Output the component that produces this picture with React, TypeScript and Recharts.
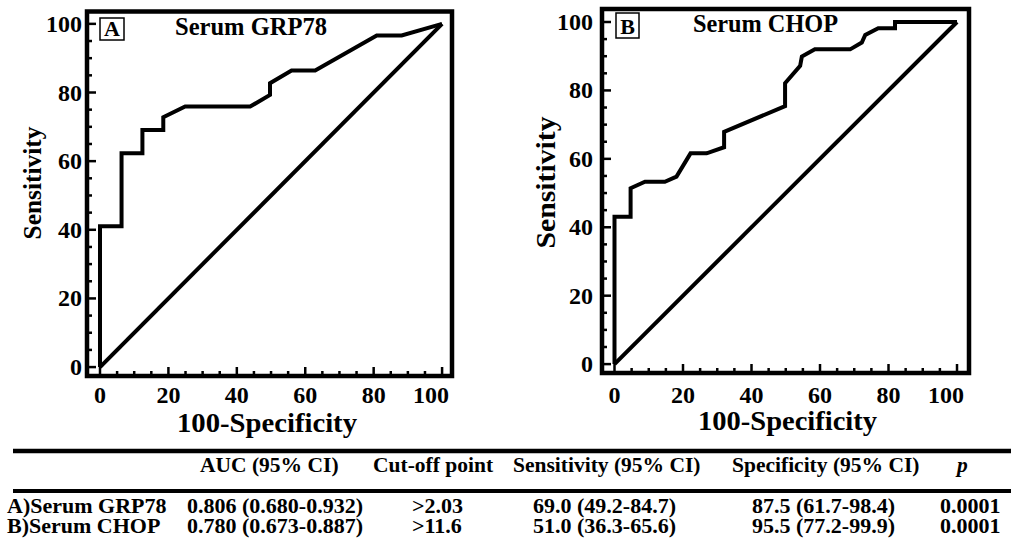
import { LineChart, Line, XAxis, YAxis, ReferenceArea, Customized } from "recharts";

// ROC curve A: serum GRP78 (100-specificity vs sensitivity)
const grpFpr = [0, 0, 6.3, 6.3, 12.4, 12.4, 18.5, 18.5, 24.9, 43.9, 49.7, 49.7, 56.0, 62.9, 80.9, 88.2, 100];
const grpSens = [0, 41, 41, 62.3, 62.3, 69.1, 69.1, 72.8, 75.9, 75.9, 79.3, 82.7, 86.4, 86.4, 96.6, 96.6, 100];

// ROC curve B: serum CHOP
const chopFpr = [0, 0, 4.7, 4.7, 8.9, 14.7, 18.1, 22.2, 26.9, 32.0, 32.0, 49.8, 49.8, 54.2, 54.7, 58.5, 68.8, 72.2, 73.2, 77.0, 81.9, 81.9, 100];
const chopSens = [0, 43.1, 43.1, 51.4, 53.3, 53.3, 54.8, 61.6, 61.6, 63.4, 67.9, 75.4, 82.1, 87.2, 89.9, 92.0, 92.0, 94.0, 96.2, 98.2, 98.2, 100, 100];

// reference diagonal
const refFpr = [0, 100];
const refSens = [0, 100];

const axisTicks = [0, 5, 10, 15, 20, 25, 30, 35, 40, 45, 50, 55, 60, 65, 70, 75, 80, 85, 90, 95, 100];

const tableHeader = ["AUC (95% CI)", "Cut-off point", "Sensitivity (95% CI)", "Specificity (95% CI)"];
const headerX = [200, 373, 513, 732];
const rowNames = ["A)Serum GRP78", "B)Serum CHOP"];
const rowAuc = ["0.806 (0.680-0.932)", "0.780 (0.673-0.887)"];
const rowCutoff = [">2.03", ">11.6"];
const rowSens = ["69.0 (49.2-84.7)", "51.0 (36.3-65.6)"];
const rowSpec = ["87.5 (61.7-98.4)", "95.5 (77.2-99.9)"];
const rowP = ["0.0001", "0.0001"];
const rowX = [7, 187, 412, 533, 752, 940];

const serif = "'Liberation Serif', 'Times New Roman', serif";

const toPts = (xs: number[], ys: number[]) => xs.map((x, i) => ({ x, y: ys[i] }));

function XTick(props: any) {
  const { x, y, payload, dy } = props;
  const v = payload.value;
  const major = v % 20 === 0;
  return (
    <g>
      <line x1={x} x2={x} y1={y} y2={y - (major ? 9 : 5)} stroke="#000" strokeWidth={2.5} />
      {major && (
        <text
          x={v === 100 ? x + 7 : x}
          y={y + dy}
          textAnchor={v === 100 ? "end" : "middle"}
          fontSize={24}
          fontWeight="bold"
          fontFamily={serif}
          fill="#000"
        >
          {v}
        </text>
      )}
    </g>
  );
}

function YTick(props: any) {
  const { x, y, payload, dx } = props;
  const v = payload.value;
  const major = v % 20 === 0;
  return (
    <g>
      <line x1={x} x2={x + (major ? 9 : 5)} y1={y} y2={y} stroke="#000" strokeWidth={2.5} />
      {major && (
        <text x={x - dx} y={y + 8} textAnchor="end" fontSize={24} fontWeight="bold" fontFamily={serif} fill="#000">
          {v}
        </text>
      )}
    </g>
  );
}

type PanelProps = {
  left: number;
  width: number;
  yAxisW: number;
  marginTop: number;
  marginRight: number;
  xAxisH: number;
  xDom: [number, number];
  yDom: [number, number];
  fpr: number[];
  sens: number[];
  letter: string;
  box: [number, number, number, number];
  title: string;
  titleX: number;
  titleY: number;
  titleLen: number;
  xLab: [number, number, number];
  yLab: [number, number, number, number];
  xDy: number;
  yDx: number;
};

function RocPanel(p: PanelProps) {
  const H = 445;
  return (
    <div style={{ position: "absolute", left: p.left, top: 0 }}>
      <LineChart
        width={p.width}
        height={H}
        margin={{ top: p.marginTop, right: p.marginRight, left: 0, bottom: 0 }}
      >
        <XAxis
          dataKey="x"
          type="number"
          domain={p.xDom}
          allowDataOverflow
          ticks={axisTicks}
          interval={0}
          height={p.xAxisH}
          axisLine={false}
          tickLine={false}
          tickSize={0}
          tickMargin={0}
          tick={<XTick dy={p.xDy} />}
          label={{
            content: () => (
              <text
                x={p.xLab[0]}
                y={p.xLab[1]}
                textAnchor="middle"
                fontSize={28}
                fontWeight="bold"
                fontFamily={serif}
                textLength={p.xLab[2]}
                lengthAdjust="spacingAndGlyphs"
              >
                100-Specificity
              </text>
            ),
          }}
        />
        <YAxis
          dataKey="y"
          type="number"
          domain={p.yDom}
          allowDataOverflow
          ticks={axisTicks}
          interval={0}
          width={p.yAxisW}
          axisLine={false}
          tickLine={false}
          tickSize={0}
          tickMargin={0}
          tick={<YTick dx={p.yDx} />}
          label={{
            content: () => (
              <text
                x={p.yLab[0]}
                y={p.yLab[1]}
                transform={`rotate(-90 ${p.yLab[0]} ${p.yLab[1]})`}
                textAnchor="middle"
                dominantBaseline="central"
                fontSize={p.yLab[3]}
                fontWeight="bold"
                fontFamily={serif}
                textLength={p.yLab[2]}
                lengthAdjust="spacingAndGlyphs"
              >
                Sensitivity
              </text>
            ),
          }}
        />
        <ReferenceArea
          x1={p.xDom[0]}
          x2={p.xDom[1]}
          y1={p.yDom[0]}
          y2={p.yDom[1]}
          ifOverflow="visible"
          fill="none"
          fillOpacity={0}
          stroke="#000"
          strokeWidth={4.5}
        />
        <Line
          data={toPts(refFpr, refSens)}
          dataKey="y"
          type="linear"
          stroke="#000"
          strokeWidth={4}
          dot={false}
          isAnimationActive={false}
        />
        <Line
          data={toPts(p.fpr, p.sens)}
          dataKey="y"
          type="linear"
          stroke="#000"
          strokeWidth={4}
          dot={false}
          isAnimationActive={false}
        />
        <Customized
          component={() => (
            <g>
              <rect
                x={p.box[0]}
                y={p.box[1]}
                width={p.box[2]}
                height={p.box[3]}
                fill="#fff"
                stroke="#000"
                strokeWidth={1.5}
              />
              <text
                x={p.box[0] + p.box[2] / 2}
                y={p.box[1] + p.box[3] - 4}
                textAnchor="middle"
                fontSize={22}
                fontWeight="bold"
                fontFamily={serif}
              >
                {p.letter}
              </text>
              <text
                x={p.titleX}
                y={p.titleY}
                textAnchor="middle"
                fontSize={25}
                fontWeight="bold"
                fontFamily={serif}
                textLength={p.titleLen}
                lengthAdjust="spacingAndGlyphs"
              >
                {p.title}
              </text>
            </g>
          )}
        />
      </LineChart>
    </div>
  );
}

function StatsTable() {
  const cols = [rowNames, rowAuc, rowCutoff, rowSens, rowSpec, rowP];
  const txt = { fontWeight: "bold" as const, fontFamily: serif, fill: "#000" };
  return (
    <svg width={1011} height={98} style={{ position: "absolute", left: 0, top: 440 }}>
      <line x1={13} x2={1011} y1={11} y2={11} stroke="#000" strokeWidth={4.5} />
      <line x1={13} x2={1011} y1={51} y2={51} stroke="#000" strokeWidth={4} />
      {tableHeader.map((h, i) => (
        <text key={h} x={headerX[i]} y={32} fontSize={21.5} {...txt}>
          {h}
        </text>
      ))}
      <text x={957} y={32} fontSize={21.5} fontStyle="italic" {...txt}>
        p
      </text>
      {[0, 1].map((r) =>
        cols.map((c, ci) => (
          <text key={`${r}-${ci}`} x={rowX[ci]} y={r === 0 ? 72.5 : 92.5} fontSize={22} {...txt}>
            {c[r]}
          </text>
        ))
      )}
    </svg>
  );
}

export default function App() {
  return (
    <div style={{ position: "absolute", left: 0, top: 0, width: 1011, height: 538, background: "#fff" }}>
      <RocPanel
        left={0}
        width={470}
        yAxisW={87}
        marginTop={11.5}
        marginRight={18}
        xAxisH={69}
        xDom={[-3.8, 102.9]}
        yDom={[-2.6, 103.6]}
        fpr={grpFpr}
        sens={grpSens}
        letter="A"
        box={[100, 18, 24, 22]}
        title="Serum GRP78"
        titleX={251}
        titleY={35}
        titleLen={152}
        xLab={[267, 432, 180]}
        yLab={[32.5, 183, 113, 25]}
        xDy={27}
        yDx={5}
      />
      <RocPanel
        left={500}
        width={490}
        yAxisW={102}
        marginTop={9}
        marginRight={21}
        xAxisH={72}
        xDom={[-3.65, 103.5]}
        yDom={[-2.6, 103.8]}
        fpr={chopFpr}
        sens={chopSens}
        letter="B"
        box={[116, 13, 23, 25]}
        title="Serum CHOP"
        titleX={265.5}
        titleY={32}
        titleLen={145}
        xLab={[287.5, 430, 179]}
        yLab={[46, 182.5, 132, 27]}
        xDy={30}
        yDx={9}
      />
      <StatsTable />
    </div>
  );
}
